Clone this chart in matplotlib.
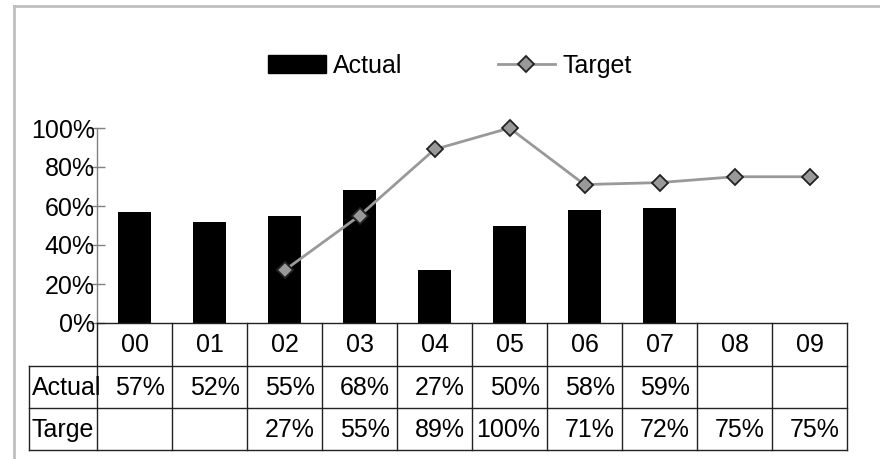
import numpy as np
import matplotlib
matplotlib.use("Agg")
import matplotlib.pyplot as plt
from matplotlib.lines import Line2D
from matplotlib.patches import Patch

categories = ["00", "01", "02", "03", "04", "05", "06", "07", "08", "09"]
actual = [0.57, 0.52, 0.55, 0.68, 0.27, 0.50, 0.58, 0.59, np.nan, np.nan]
target = [np.nan, np.nan, 0.27, 0.55, 0.89, 1.00, 0.71, 0.72, 0.75, 0.75]
yticks = [0, 0.2, 0.4, 0.6, 0.8, 1.0]
ytick_labels = ["0%", "20%", "40%", "60%", "80%", "100%"]
row_labels = ["Actual", "Targe"]

plt.rcParams["font.family"] = ["Liberation Sans", "DejaVu Sans"]
FS = 18

W, H = 880, 459
fig = plt.figure(figsize=(W / 100, H / 100), dpi=100)

def fx(px):
    return px / W

def fy(py):
    return 1 - py / H

ax_l, ax_r, ax_t, ax_b = 97, 847, 128, 323
ax = fig.add_axes([fx(ax_l), fy(ax_b), fx(ax_r - ax_l), (ax_b - ax_t) / H])

line_kw = dict(color="#999999", lw=2, marker="D", markersize=8.5,
               markerfacecolor="#999999", markeredgecolor="#222222", markeredgewidth=1.3)

x = np.arange(len(categories))
ax.bar(x, actual, width=0.43, color="black", zorder=2)
ax.plot(x, target, zorder=3, clip_on=False, **line_kw)

ax.set_xlim(-0.5, len(categories) - 0.5)
ax.set_ylim(0, 1.0)
ax.set_yticks(yticks)
ax.set_yticklabels(ytick_labels, fontsize=FS)
ax.set_xticks([])
for s in ["top", "right", "bottom"]:
    ax.spines[s].set_visible(False)
ax.spines["left"].set_color("#808080")
ax.spines["left"].set_linewidth(1)
ax.tick_params(axis="y", direction="inout", length=12, width=1, color="#808080", pad=-4.5)

# table drawn below axes
row_y = [323, 366, 408, 450]
cell_w = (ax_r - ax_l) / len(categories)
lc = "#222222"
lw = 1.0

def hline(x0, x1, y):
    fig.add_artist(Line2D([fx(x0), fx(x1)], [fy(y), fy(y)], color=lc, lw=lw))

def vline(xp, y0, y1):
    fig.add_artist(Line2D([fx(xp), fx(xp)], [fy(y0), fy(y1)], color=lc, lw=lw))

hline(ax_l, ax_r, 323)
for yy in row_y[1:]:
    hline(29, ax_r, yy)
vline(29, 366, 450)
for i in range(len(categories) + 1):
    vline(ax_l + i * cell_w, 323, 450)

for i, c in enumerate(categories):
    cx = ax_l + (i + 0.5) * cell_w
    fig.text(fx(cx), fy((row_y[0] + row_y[1]) / 2 + 1), c, ha="center", va="center", fontsize=FS)

rows = [actual, target]
for r, (lab, vals) in enumerate(zip(row_labels, rows)):
    cy = (row_y[r + 1] + row_y[r + 2]) / 2 + 1
    fig.text(fx(32), fy(cy), lab, ha="left", va="center", fontsize=FS)
    for i, v in enumerate(vals):
        if np.isnan(v):
            continue
        rx = ax_l + (i + 1) * cell_w - 7
        fig.text(fx(rx), fy(cy), f"{round(v * 100):.0f}%", ha="right", va="center", fontsize=FS)

# legend
handles = [Patch(facecolor="black", edgecolor="black"), Line2D([], [], **line_kw)]
fig.legend(handles, ["Actual", "Target"], loc="center", bbox_to_anchor=(fx(450), fy(66)),
           ncol=2, frameon=False, fontsize=FS, handlelength=2.3, handleheight=0.75,
           handletextpad=0.3, columnspacing=3.8)

# outer border (top and left)
fig.add_artist(Line2D([fx(14), 1], [fy(6), fy(6)], color="#C0C0C0", lw=2))
fig.add_artist(Line2D([fx(14), fx(14)], [fy(6), 0], color="#C0C0C0", lw=2))

fig.savefig("out.png", dpi=100)
